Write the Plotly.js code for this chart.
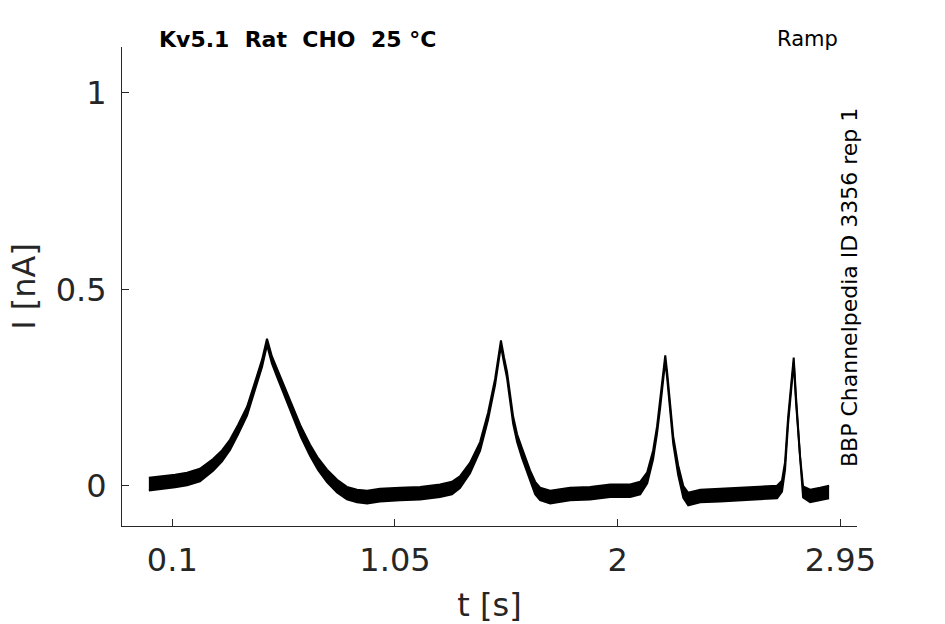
<!DOCTYPE html>
<html>
<head>
<meta charset="utf-8">
<script src="https://cdn.plot.ly/plotly-3.0.1.min.js"></script>
<style>html,body{margin:0;padding:0;background:#fff;}#chart{width:945px;height:624px;}</style>
</head>
<body>
<div id="chart"></div>
<script>
// Time points [s]
const timeS = [0.000,0.048,0.112,0.163,0.218,0.274,0.312,0.346,0.380,0.419,0.440,0.461,0.483,0.504,0.525,0.547,0.581,0.615,0.649,0.687,0.722,0.760,0.803,0.845,0.888,0.931,0.986,1.072,1.157,1.242,1.293,1.327,1.370,1.413,1.447,1.477,1.490,1.502,1.515,1.528,1.554,1.571,1.592,1.626,1.648,1.669,1.712,1.797,1.882,1.968,2.053,2.096,2.126,2.151,2.168,2.181,2.194,2.203,2.211,2.224,2.237,2.258,2.280,2.301,2.352,2.437,2.535,2.629,2.680,2.701,2.714,2.727,2.740,2.751,2.761,2.770,2.778,2.791,2.821,2.864,2.902];
// Upper edge of the noisy current trace [nA]
const currentUpper = [0.020,0.023,0.028,0.033,0.043,0.068,0.090,0.117,0.154,0.201,0.238,0.279,0.321,0.374,0.329,0.297,0.247,0.197,0.150,0.105,0.070,0.041,0.015,-0.003,-0.010,-0.013,-0.008,-0.005,-0.003,0.003,0.010,0.024,0.058,0.111,0.186,0.272,0.322,0.370,0.327,0.290,0.176,0.131,0.095,0.039,0.010,-0.005,-0.013,-0.005,-0.003,0.003,0.003,0.010,0.034,0.089,0.151,0.213,0.289,0.332,0.289,0.201,0.125,0.052,-0.001,-0.018,-0.010,-0.008,-0.005,-0.003,0.000,0.013,0.060,0.173,0.263,0.326,0.225,0.150,0.075,-0.002,-0.010,-0.005,0.000];
// Lower edge of the noisy current trace [nA]
const currentLower = [-0.012,-0.009,-0.004,0.001,0.011,0.038,0.062,0.091,0.130,0.179,0.218,0.259,0.303,0.358,0.311,0.277,0.225,0.173,0.124,0.077,0.040,0.009,-0.017,-0.035,-0.042,-0.045,-0.040,-0.037,-0.035,-0.029,-0.022,-0.006,0.032,0.089,0.168,0.256,0.308,0.356,0.313,0.274,0.158,0.111,0.071,0.011,-0.022,-0.037,-0.045,-0.037,-0.035,-0.029,-0.029,-0.022,0.006,0.067,0.133,0.197,0.275,0.318,0.275,0.185,0.107,0.028,-0.031,-0.050,-0.042,-0.040,-0.037,-0.035,-0.032,-0.015,0.040,0.157,0.249,0.314,0.211,0.134,0.055,-0.030,-0.042,-0.037,-0.032];

const xTickVals = [0.1, 1.05, 2, 2.95];
const xTickText = ['0.1', '1.05', '2', '2.95'];
const yTickVals = [0, 0.5, 1];
const yTickText = ['0', '0.5', '1'];

const FONT = 'DejaVu Sans, Liberation Sans, sans-serif';
const AX = '#262626';

const traces = [
  {x: timeS, y: currentLower, type: 'scatter', mode: 'lines',
   line: {color: '#000', width: 2}, hoverinfo: 'skip', showlegend: false},
  {x: timeS, y: currentUpper, type: 'scatter', mode: 'lines', fill: 'tonexty',
   fillcolor: '#000', line: {color: '#000', width: 2}, hoverinfo: 'skip', showlegend: false}
];

const layout = {
  width: 945, height: 624,
  margin: {l: 122, r: 88, t: 47, b: 98, pad: 0},
  paper_bgcolor: '#fff', plot_bgcolor: '#fff',
  showlegend: false,
  font: {family: FONT, color: AX},
  xaxis: {
    range: [-0.1146, 3.021], tickmode: 'array', tickvals: xTickVals, ticktext: xTickText,
    ticks: 'inside', ticklen: 7, tickwidth: 1, tickcolor: AX,
    showline: true, linecolor: AX, linewidth: 1, showgrid: false, zeroline: false,
    tickfont: {family: FONT, size: 32, color: AX}, ticklabelstandoff: 6,
    title: {text: 't [s]', font: {family: FONT, size: 32, color: AX}, standoff: 16}
  },
  yaxis: {
    range: [-0.1026, 1.117], tickmode: 'array', tickvals: yTickVals, ticktext: yTickText,
    ticks: 'inside', ticklen: 7, tickwidth: 1, tickcolor: AX,
    showline: true, linecolor: AX, linewidth: 1, showgrid: false, zeroline: false,
    tickfont: {family: FONT, size: 32, color: AX}, ticklabelstandoff: 8,
    title: {text: 'I [nA]', font: {family: FONT, size: 32, color: AX}, standoff: 10}
  },
  annotations: [
    {text: '<b>Kv5.1  Rat  CHO  25 °C</b>', xref: 'paper', yref: 'paper',
     x: (157 - 122) / 735, y: (526 - 40) / 479, xanchor: 'left', yanchor: 'middle',
     showarrow: false, font: {family: FONT, size: 22, color: '#000'}},
    {text: 'Ramp', xref: 'paper', yref: 'paper',
     x: (840 - 122) / 735, y: (526 - 39) / 479, xanchor: 'right', yanchor: 'middle',
     showarrow: false, font: {family: FONT, size: 21, color: '#000'}},
    {text: 'BBP Channelpedia ID 3356 rep 1', xref: 'paper', yref: 'paper',
     x: (849 - 122) / 735, y: (526 - 288) / 479, xanchor: 'center', yanchor: 'middle',
     textangle: -90, showarrow: false, font: {family: FONT, size: 22, color: '#000'}}
  ]
};

Plotly.newPlot('chart', traces, layout, {displayModeBar: false, staticPlot: true});
</script>
</body>
</html>
